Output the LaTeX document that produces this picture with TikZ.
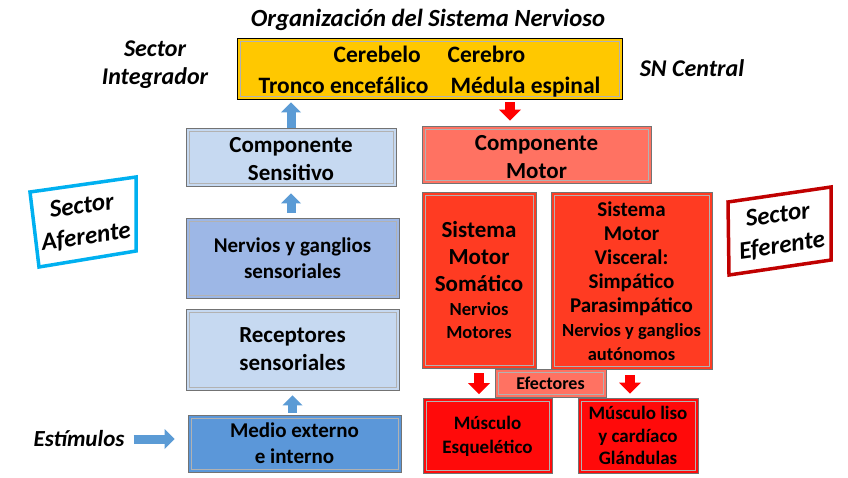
\documentclass[tikz,border=0pt]{standalone}
\usepackage{fontspec}
\setmainfont{Carlito}
\usetikzlibrary{arrows.meta,calc}
\definecolor{cnsyellow}{HTML}{FFC800}
\definecolor{lblue}{HTML}{C6D9F1}
\definecolor{mblue}{HTML}{9DB7E6}
\definecolor{dblue}{HTML}{5B97D9}
\definecolor{arrblue}{HTML}{5B9BD5}
\definecolor{salmon}{HTML}{FF7262}
\definecolor{orred}{HTML}{FF3B22}
\definecolor{pured}{HTML}{FF0A0A}
\definecolor{framecyan}{HTML}{00B0F0}
\definecolor{framered}{HTML}{C00000}
\begin{document}
\begin{tikzpicture}[x=1pt,y=-1pt,
  box/.style={draw=black!55, line width=0.9pt, inner sep=0pt, align=center,
    font=\bfseries\fontsize{23}{28}\selectfont,
    path picture={\draw[black!30,line width=0.7pt]
      ([shift={(3pt,-3pt)}]path picture bounding box.north west) rectangle
      ([shift={(-3pt,3pt)}]path picture bounding box.south east);}},
  lbl/.style={align=center, inner sep=1pt, font=\bfseries\itshape\fontsize{24}{28}\selectfont},
  barrow/.style={line width=9pt, draw=arrblue, -{Triangle[length=10pt,width=20pt,line width=0pt]}},
  rarrow/.style={line width=10pt, draw=red, -{Triangle[length=11pt,width=22pt,line width=0pt]}},
  frame/.style={line width=3.5pt, line join=miter}
]
\useasboundingbox (0,0) rectangle (848,477);

% titles and labels
\node[lbl, font=\bfseries\itshape\fontsize{24.7}{28}\selectfont] (title) at (428,20) {Organización del Sistema Nervioso};
\node[lbl] (integ) at (155,65) {Sector\\Integrador};
\node[lbl] (sncen) at (692,68) {SN Central};
\node[lbl, font=\bfseries\itshape\fontsize{23}{28}\selectfont] (estim) at (79,439) {Estímulos};

% CNS
\node[box, fill=cnsyellow, draw=black, minimum width=385pt, minimum height=61pt, font=\bfseries\fontsize{23.5}{30}\selectfont] (cns) at (429.5,68.5)
  {\rule{0pt}{23pt}Cerebelo\hspace{27pt}Cerebro\\[1pt]Tronco encefálico\hspace{22pt}Médula espinal};

% afferent column
\node[box, fill=lblue, minimum width=210pt, minimum height=58pt] (sens) at (291,157) {\rule{0pt}{20pt}Componente\\Sensitivo};
\node[box, fill=mblue, minimum width=213pt, minimum height=80pt, font=\bfseries\fontsize{21}{26}\selectfont] (nerv) at (292.5,258) {Nervios y ganglios\\sensoriales};
\node[box, fill=lblue, minimum width=213pt, minimum height=81pt] (recep) at (292.5,349.5) {Receptores\\sensoriales};
\node[box, fill=dblue, minimum width=213pt, minimum height=57pt, font=\bfseries\fontsize{21}{26}\selectfont] (medio) at (294.5,443.5) {Medio externo\\e interno};

% efferent column
\node[box, fill=salmon, minimum width=229pt, minimum height=57pt] (motor) at (536.5,154.5) {\rule{0pt}{21pt}Componente\\Motor};
\node[box, fill=orred, minimum width=114pt, minimum height=176pt, font=\bfseries\fontsize{18.5}{23}\selectfont] (soma) at (479,280)
  {{\fontsize{23}{27}\selectfont Sistema}\\[4pt]{\fontsize{23}{27}\selectfont Motor}\\[4pt]{\fontsize{23}{27}\selectfont Somático}\\[1pt]Nervios\\Motores};
\node[box, fill=orred, minimum width=161pt, minimum height=177pt, font=\bfseries\fontsize{18.5}{23}\selectfont] (visc) at (631.5,281)
  {{\fontsize{21}{25}\selectfont Sistema}\\[1pt]{\fontsize{21}{25}\selectfont Motor}\\[1pt]{\fontsize{21}{25}\selectfont Visceral:}\\[1pt]{\fontsize{21}{25}\selectfont Simpático}\\[1pt]{\fontsize{21}{25}\selectfont Parasimpático}\\[1pt]Nervios y ganglios\\[1pt]autónomos};
\node[box, fill=salmon, minimum width=111pt, minimum height=28pt, font=\bfseries\fontsize{18}{22}\selectfont] (efect) at (550.5,383) {Efectores};
\node[box, fill=pured, minimum width=129pt, minimum height=75pt, font=\bfseries\fontsize{19}{24}\selectfont] (mesq) at (487.5,436) {Músculo\\Esquelético};
\node[box, fill=pured, minimum width=120pt, minimum height=75pt, font=\bfseries\fontsize{19}{22.5}\selectfont] (mliso) at (638,435.5) {Músculo liso\\y cardíaco\\Glándulas};

% sector frames
\draw[frame, draw=framecyan] (30,192) -- (136,177) -- (136,251) -- (39,267) -- cycle;
\node[lbl, rotate=8, font=\bfseries\itshape\fontsize{25}{31}\selectfont] (afer) at (84,222) {Sector\\Aferente};
\draw[frame, draw=framered] (728,202) -- (831,187) -- (831,260) -- (729,275) -- cycle;
\node[lbl, rotate=8, font=\bfseries\itshape\fontsize{25}{31}\selectfont] (efer) at (780,231) {Sector\\Eferente};

% connectors
\draw[barrow, shorten >=3pt] (sens.north) -- (sens.north |- cns.south);
\draw[barrow, shorten <=5pt, shorten >=7pt] (nerv.north -| sens.north) -- (sens.south);
\draw[barrow, shorten <=2pt, shorten >=5pt] (medio.north -| recep.north) -- (recep.south -| recep.north);
\draw[barrow, shorten <=8pt, shorten >=13pt] (estim.east) -- (estim.east -| medio.west);
\draw[rarrow, shorten <=3pt, shorten >=5pt] (cns.south -| 510,0) -- (motor.north -| 510,0);
\draw[rarrow, shorten <=5pt, shorten >=4pt] (soma.south) -- (soma.south |- mesq.north);
\draw[rarrow, shorten <=5pt, shorten >=4pt] (visc.south -| 630,0) -- (mliso.north -| 630,0);
\end{tikzpicture}
\end{document}
